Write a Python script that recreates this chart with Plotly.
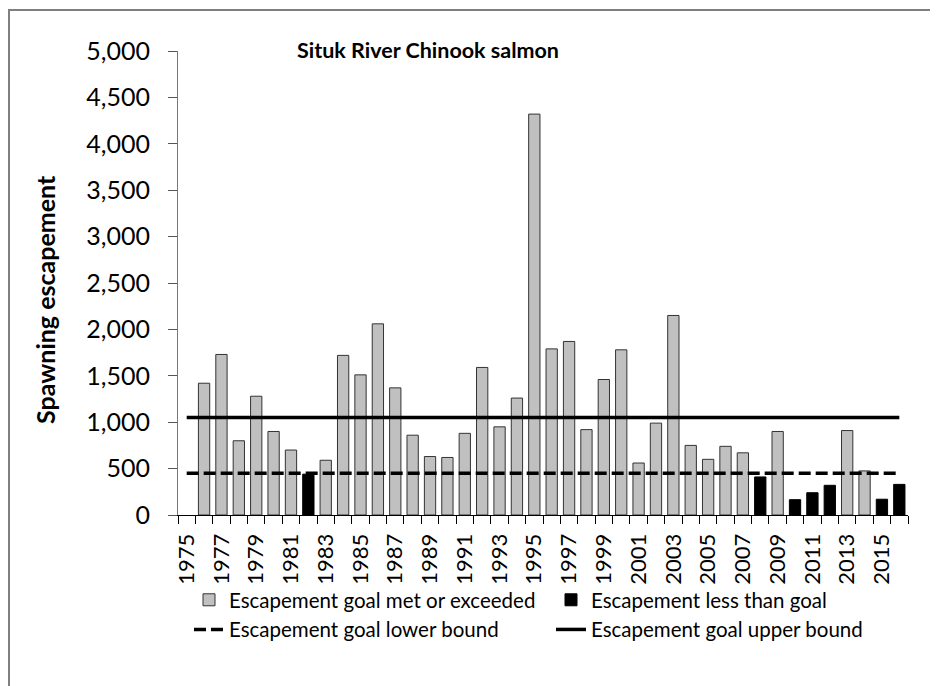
import plotly.graph_objects as go

years = list(range(1975, 2017))
escapement = [
    None, 1420, 1730, 800, 1280, 900, 700, 440, 590, 1720,
    1510, 2060, 1370, 860, 630, 620, 880, 1590, 950, 1260,
    4320, 1790, 1870, 920, 1460, 1780, 560, 990, 2150, 750,
    600, 740, 670, 410, 900, 165, 240, 320, 910, 475,
    170, 330,
]
goal_lower = 450
goal_upper = 1050

met_x = [y for y, v in zip(years, escapement) if v is not None and v >= goal_lower]
met_y = [v for v in escapement if v is not None and v >= goal_lower]
less_x = [y for y, v in zip(years, escapement) if v is not None and v < goal_lower]
less_y = [v for v in escapement if v is not None and v < goal_lower]

FONT = "Lato, 'Open Sans', sans-serif"

# plot area in figure pixels (the page adds an 8px body margin)
L, R, T, B = 170, 900, 43, 507
PW, PH = R - L, B - T

fig = go.Figure()

fig.add_trace(
    go.Bar(
        x=met_x,
        y=met_y,
        name="Escapement goal met or exceeded",
        marker=dict(color="#C0C0C0", line=dict(color="#333333", width=1)),
        width=0.65,
        legend="legend",
    )
)

fig.add_trace(
    go.Bar(
        x=less_x,
        y=less_y,
        name="Escapement less than goal",
        marker=dict(color="#000000", line=dict(color="#000000", width=1)),
        width=0.65,
        legend="legend2",
    )
)

fig.add_trace(
    go.Scatter(
        x=years,
        y=[goal_lower] * len(years),
        mode="lines",
        name="Escapement goal lower bound",
        line=dict(color="#000000", width=3.5, dash="12px,5px"),
        legend="legend",
    )
)

fig.add_trace(
    go.Scatter(
        x=years,
        y=[goal_upper] * len(years),
        mode="lines",
        name="Escapement goal upper bound",
        line=dict(color="#000000", width=3.5),
        legend="legend2",
    )
)

legend_style = dict(
    orientation="v",
    xanchor="left",
    y=-0.14,
    yanchor="top",
    font=dict(family=FONT, size=20.5),
    bgcolor="rgba(0,0,0,0)",
    tracegroupgap=0,
    traceorder="normal",
)

fig.update_layout(
    width=938,
    height=686,
    margin=dict(l=L, r=938 - R, t=T, b=686 - B, autoexpand=False),
    paper_bgcolor="white",
    plot_bgcolor="white",
    barmode="overlay",
    font=dict(family=FONT, color="#000000", size=22),
    title=dict(
        text="<b>Situk River Chinook salmon</b>",
        x=420 / 938,
        xanchor="center",
        y=1 - 42 / 686,
        yanchor="middle",
        font=dict(family=FONT, size=21.5, color="#000000"),
    ),
    showlegend=True,
    legend=dict(x=(181 - L) / PW, **legend_style),
    legend2=dict(x=(543 - L) / PW, **legend_style),
    annotations=[
        dict(
            text="<b>Spawning escapement</b>",
            xref="paper",
            yref="paper",
            x=(37 - L) / PW,
            y=(B - 292) / PH,
            xanchor="center",
            yanchor="middle",
            textangle=-90,
            showarrow=False,
            font=dict(family=FONT, size=25, color="#000000"),
        )
    ],
    shapes=[
        dict(
            type="rect",
            xref="paper",
            yref="paper",
            x0=(1 - L) / PW,
            x1=(945 - L) / PW,
            y0=(B - 700) / PH,
            y1=(B - 2) / PH,
            line=dict(color="#7f7f7f", width=2),
            fillcolor="rgba(0,0,0,0)",
            layer="above",
        )
    ],
)

fig.update_xaxes(
    type="linear",
    range=[1974.5, 2016.5],
    tickvals=[y for y in years if y % 2 == 1],
    ticktext=[str(y) for y in years if y % 2 == 1],
    tickangle=-90,
    ticks="",
    ticklabelstandoff=9,
    tickfont=dict(family=FONT, size=22),
    showgrid=False,
    zeroline=False,
    showline=True,
    linecolor="#000000",
    linewidth=1,
    automargin=False,
    minor=dict(
        ticks="outside",
        ticklen=8,
        tickcolor="#000000",
        tick0=1974.5,
        dtick=1,
        showgrid=False,
    ),
)

fig.update_yaxes(
    range=[0, 5000],
    dtick=500,
    tickformat=",",
    ticks="outside",
    ticklen=9,
    tickcolor="#555555",
    ticklabelstandoff=13,
    tickfont=dict(family=FONT, size=25),
    showgrid=False,
    zeroline=False,
    showline=True,
    linecolor="#777777",
    linewidth=1,
    automargin=False,
)

fig.write_html("out.html")
